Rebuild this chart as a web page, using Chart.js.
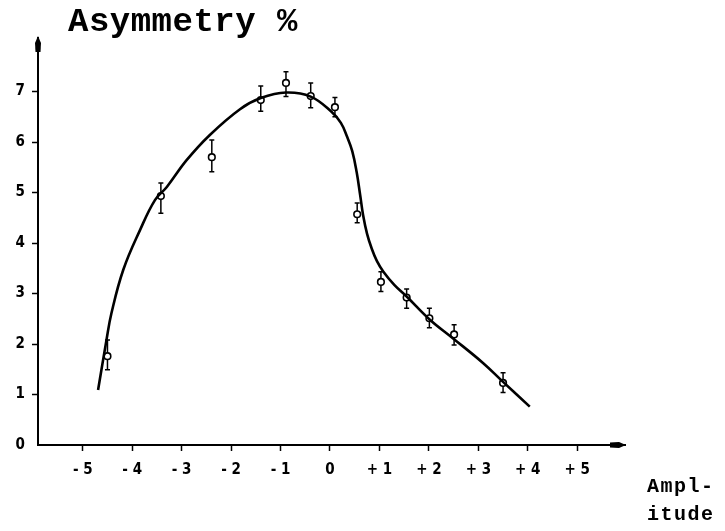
<!DOCTYPE html>
<html>
<head>
<meta charset="utf-8">
<script src="https://cdn.jsdelivr.net/npm/chart.js@4/dist/chart.umd.min.js"></script>
<style>
  html, body { margin: 0; padding: 0; background: #fff; }
  #wrap { width: 725px; height: 531px; }
</style>
</head>
<body>
<div id="wrap"><canvas id="c" width="725" height="531"></canvas></div>
<script>
// ---- data ----
const xTickValues = [-5, -4, -3, -2, -1, 0, 1, 2, 3, 4, 5];
const xTickLabels = ['- 5', '- 4', '- 3', '- 2', '- 1', '0', '+ 1', '+ 2', '+ 3', '+ 4', '+ 5'];
const yTickValues = [0, 1, 2, 3, 4, 5, 6, 7];
const yTickLabels = ['0', '1', '2', '3', '4', '5', '6', '7'];

// measured points (amplitude, asymmetry %) with error bar limits
const ampPoints  = [-4.50, -3.42, -2.39, -1.40, -0.89, -0.39, 0.10, 0.55, 1.03, 1.55, 2.01, 2.51, 3.50];
const asymPoints = [ 1.76,  4.93,  5.70,  6.83,  7.17,  6.91, 6.69, 4.57, 3.23, 2.92, 2.51, 2.19, 1.23];
const errLow     = [ 1.49,  4.59,  5.41,  6.61,  6.90,  6.68, 6.50, 4.40, 3.04, 2.71, 2.32, 1.98, 1.04];
const errHigh    = [ 2.08,  5.19,  6.04,  7.11,  7.39,  7.17, 6.88, 4.79, 3.43, 3.09, 2.71, 2.38, 1.43];

// fitted curve
const curveAmp  = [-4.69, -4.52, -4.42, -4.18, -3.84, -3.54, -3.30, -2.90, -2.43, -1.82, -1.40, -0.89, -0.39, 0.03, 0.22, 0.34, 0.45, 0.54, 0.61, 0.67, 0.75, 0.84, 0.95, 1.08, 1.30, 1.55, 2.02, 2.49, 3.10, 3.50, 4.04];
const curveAsym = [ 1.09,  2.08,  2.61,  3.47,  4.26,  4.85,  5.11,  5.64,  6.14,  6.65,  6.87,  6.98,  6.90, 6.60, 6.38, 6.12, 5.82, 5.40, 4.95, 4.55, 4.18, 3.90, 3.64, 3.43, 3.17, 2.94, 2.48, 2.11, 1.62, 1.25, 0.76];

const titleText = 'Asymmetry %';
const axisTitleLines = ['Ampl-', 'itude'];

// ---- chart ----
const tickFont = { family: "'Liberation Sans Narrow', 'DejaVu Sans Condensed', 'Roboto Condensed', sans-serif", size: 15, weight: 'bold' };

const errorBars = {
  id: 'errorBars',
  beforeDatasetsDraw(chart) {
    const { ctx, scales: { x, y } } = chart;
    ctx.save();
    ctx.strokeStyle = '#000';
    ctx.lineWidth = 1.5;
    for (let i = 0; i < ampPoints.length; i++) {
      const px = x.getPixelForValue(ampPoints[i]);
      const yl = y.getPixelForValue(errLow[i]);
      const yh = y.getPixelForValue(errHigh[i]);
      ctx.beginPath();
      ctx.moveTo(px, yl); ctx.lineTo(px, yh);
      ctx.moveTo(px - 2.5, yl); ctx.lineTo(px + 2.5, yl);
      ctx.moveTo(px - 2.5, yh); ctx.lineTo(px + 2.5, yh);
      ctx.stroke();
    }
    ctx.restore();
  }
};

const decorations = {
  id: 'decorations',
  afterDraw(chart) {
    const { ctx, chartArea: a } = chart;
    ctx.save();
    ctx.fillStyle = '#000';
    // arrow on y axis (up)
    ctx.beginPath();
    ctx.moveTo(a.left, a.top - 2);
    ctx.lineTo(a.left + 3, a.top + 5);
    ctx.lineTo(a.left + 2.5, a.top + 14);
    ctx.lineTo(a.left - 2.5, a.top + 14);
    ctx.lineTo(a.left - 3, a.top + 5);
    ctx.closePath();
    ctx.fill();
    // arrow on x axis (right)
    ctx.beginPath();
    ctx.moveTo(a.right + 1, a.bottom);
    ctx.lineTo(a.right - 6, a.bottom - 3);
    ctx.lineTo(a.right - 15, a.bottom - 2.5);
    ctx.lineTo(a.right - 15, a.bottom + 2.5);
    ctx.lineTo(a.right - 6, a.bottom + 3);
    ctx.closePath();
    ctx.fill();
    // title
    ctx.font = "bold 34px 'Liberation Mono', 'DejaVu Sans Mono', monospace";
    ctx.letterSpacing = '0.5px';
    ctx.textBaseline = 'alphabetic';
    ctx.textAlign = 'left';
    ctx.fillText(titleText, 68, 31);
    // axis label
    ctx.font = "bold 20px 'Liberation Mono', 'DejaVu Sans Mono', monospace";
    ctx.letterSpacing = '1.5px';
    ctx.fillText(axisTitleLines[0], 647, 492);
    ctx.fillText(axisTitleLines[1], 647, 520);
    ctx.restore();
  }
};

new Chart(document.getElementById('c'), {
  type: 'scatter',
  data: {
    datasets: [
      {
        label: 'fit',
        data: curveAmp.map((v, i) => ({ x: v, y: curveAsym[i] })),
        showLine: true,
        borderColor: '#000',
        borderWidth: 2.6,
        pointRadius: 0,
        tension: 0.4,
        fill: false
      },
      {
        label: 'measured',
        data: ampPoints.map((v, i) => ({ x: v, y: asymPoints[i] })),
        showLine: false,
        pointRadius: 3.3,
        pointBackgroundColor: '#fff',
        pointBorderColor: '#000',
        pointBorderWidth: 1.6
      }
    ]
  },
  options: {
    responsive: false,
    animation: false,
    devicePixelRatio: 1,
    layout: { padding: { top: 38, right: 100, left: 0, bottom: 0 } },
    plugins: { legend: { display: false }, title: { display: false }, tooltip: { enabled: false } },
    scales: {
      x: {
        type: 'linear',
        min: -5.905,
        max: 5.966,
        afterBuildTicks: s => { s.ticks = xTickValues.map(v => ({ value: v })); },
        afterFit: s => { s.height = 86; },
        ticks: {
          autoSkip: false,
          maxRotation: 0,
          color: '#000',
          font: tickFont,
          padding: 10,
          callback: (v) => xTickLabels[xTickValues.indexOf(v)]
        },
        grid: { drawOnChartArea: false, drawTicks: true, tickLength: 6, tickColor: '#000', tickWidth: 1.5 },
        border: { display: true, color: '#000', width: 2 }
      },
      y: {
        type: 'linear',
        min: 0,
        max: 8.06,
        afterBuildTicks: s => { s.ticks = yTickValues.map(v => ({ value: v })); },
        afterFit: s => { s.width = 38; },
        ticks: {
          autoSkip: false,
          color: '#000',
          font: tickFont,
          padding: 7,
          callback: (v) => yTickLabels[yTickValues.indexOf(v)]
        },
        grid: {
          drawOnChartArea: false, drawTicks: true, tickLength: 6, tickWidth: 1.5,
          tickColor: c => (c.tick && c.tick.value === 0) ? 'rgba(0,0,0,0)' : '#000'
        },
        border: { display: true, color: '#000', width: 2 }
      }
    }
  },
  plugins: [errorBars, decorations]
});
</script>
</body>
</html>
